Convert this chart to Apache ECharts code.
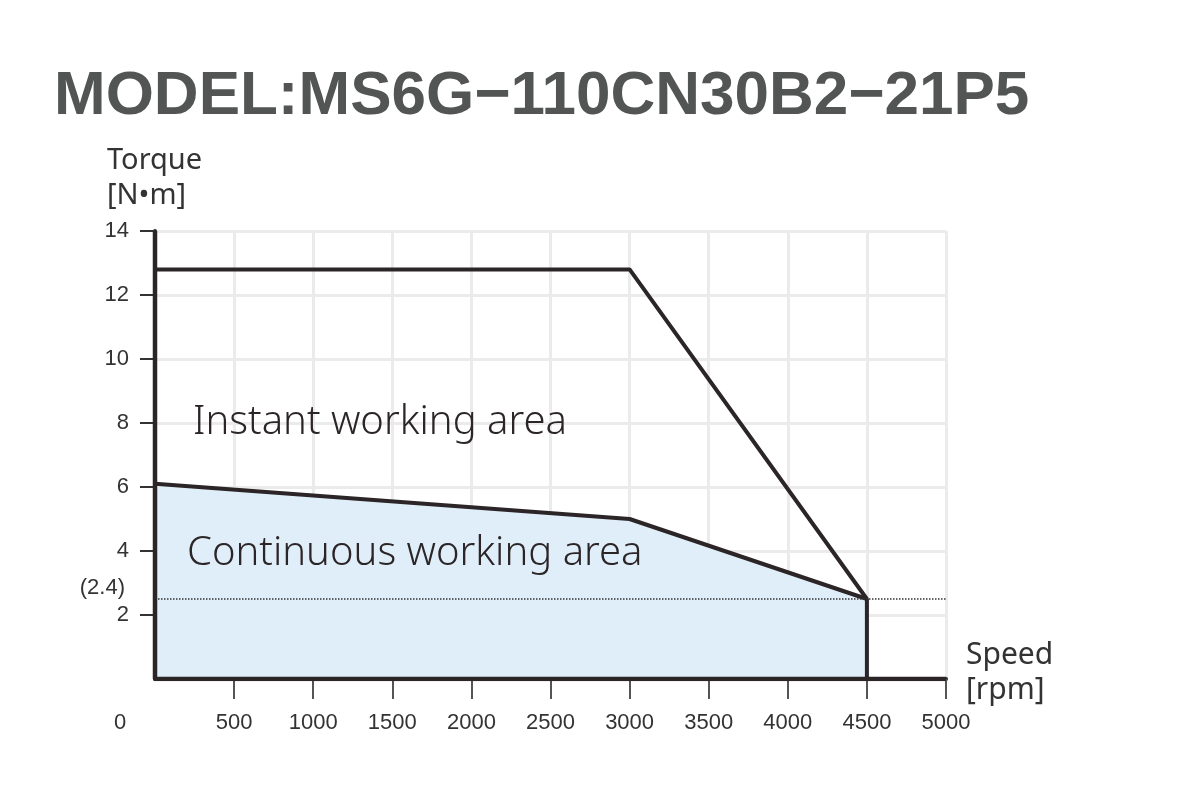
<!DOCTYPE html>
<html>
<head>
<meta charset="utf-8">
<script src="https://cdn.jsdelivr.net/npm/echarts@6/dist/echarts.min.js"></script>
<style>
html,body{margin:0;padding:0;background:#fff;}
#c{width:1191px;height:787px;}
</style>
</head>
<body>
<div id="c"></div>
<script>
var titleText = 'MODEL:MS6G\u2212110CN30B2\u221221P5';
var xTicks = [0, 500, 1000, 1500, 2000, 2500, 3000, 3500, 4000, 4500, 5000];
var yTicks = [0, 2, 4, 6, 8, 10, 12, 14];
var instantCurve = [[0, 12.8], [3000, 12.8], [4500, 2.5]];
var continuousCurve = [[0, 6.1], [3000, 5.0], [4500, 2.5], [4500, 0]];
var frameLine = [[0, 14], [0, 0], [5000, 0]];
var refTorque = 2.5;
var refLabel = '(2.4)';

var dark = '#2b2527';
var chart = echarts.init(document.getElementById('c'), null, {renderer: 'canvas'});
chart.setOption({
  backgroundColor: '#fff',
  animation: false,
  title: {
    text: titleText,
    left: 49, top: 61,
    textStyle: {fontFamily: 'Liberation Sans, Arial', fontWeight: 'bold', fontSize: 62, color: '#535555'}
  },
  grid: {left: 155, right: 245, top: 231, bottom: 108},
  xAxis: {
    type: 'value', min: xTicks[0], max: xTicks[xTicks.length - 1], interval: 500,
    axisLine: {show: true, lineStyle: {color: dark, width: 4}},
    axisTick: {show: true, length: 20, customValues: xTicks.slice(1), lineStyle: {color: '#555', width: 2}},
    axisLabel: {
      margin: 33, fontFamily: 'Liberation Sans, Arial', fontSize: 22, color: '#333',
      formatter: function (v) { return v === 0 ? '{z|0}' : String(v); },
      rich: {z: {fontFamily: 'Liberation Sans, Arial', fontSize: 22, color: '#333', padding: [0, 70, 0, 0]}}
    },
    splitLine: {show: true, lineStyle: {color: '#ebebeb', width: 3}}
  },
  yAxis: {
    type: 'value', min: yTicks[0], max: yTicks[yTicks.length - 1], interval: 2,
    axisLine: {show: true, lineStyle: {color: dark, width: 4}},
    axisTick: {show: true, length: 15, customValues: yTicks.slice(1), lineStyle: {color: '#333', width: 2}},
    axisLabel: {
      margin: 26, fontFamily: 'Liberation Sans, Arial', fontSize: 22, color: '#333',
      formatter: function (v) { return v === 0 ? '' : String(v); }
    },
    splitLine: {show: true, lineStyle: {color: '#ebebeb', width: 3}}
  },
  series: [
    {
      type: 'line', data: continuousCurve, symbol: 'none', z: 3,
      lineStyle: {color: dark, width: 4},
      areaStyle: {color: '#e0eef9', opacity: 1},
      markLine: {
        silent: true, symbol: 'none',
        lineStyle: {type: 'dotted', color: '#333', width: 1.5},
        label: {show: true, position: 'start', formatter: refLabel, distance: 30, verticalAlign: 'bottom',
          fontFamily: 'Liberation Sans, Arial', fontSize: 22, color: '#333'},
        data: [[{coord: [0, refTorque]}, {coord: [5000, refTorque]}]]
      }
    },
    {
      type: 'line', data: instantCurve, symbol: 'none', z: 4,
      lineStyle: {color: dark, width: 4}
    },
    {
      type: 'line', data: frameLine, symbol: 'none', z: 5,
      lineStyle: {color: dark, width: 4.5}
    }
  ],
  graphic: [
    {type: 'text', left: 107, top: 143, style: {text: 'Torque\n[N\u2022m]', fontFamily: 'Noto Sans', fontSize: 29, lineHeight: 35, fill: '#333'}},
    {type: 'text', left: 966, top: 638, style: {text: 'Speed\n[rpm]', fontFamily: 'Noto Sans', fontSize: 30, lineHeight: 35, fill: '#333'}},
    {type: 'text', x: 193, y: 423, style: {text: 'Instant working area', fontFamily: 'Noto Sans', fontWeight: 300, fontSize: 40, fill: '#2b2527', verticalAlign: 'middle'}, z: 10},
    {type: 'text', x: 187, y: 554, style: {text: 'Continuous working area', fontFamily: 'Noto Sans', fontWeight: 300, fontSize: 40, fill: '#2b2527', verticalAlign: 'middle'}, z: 10}
  ]
});
</script>
</body>
</html>
